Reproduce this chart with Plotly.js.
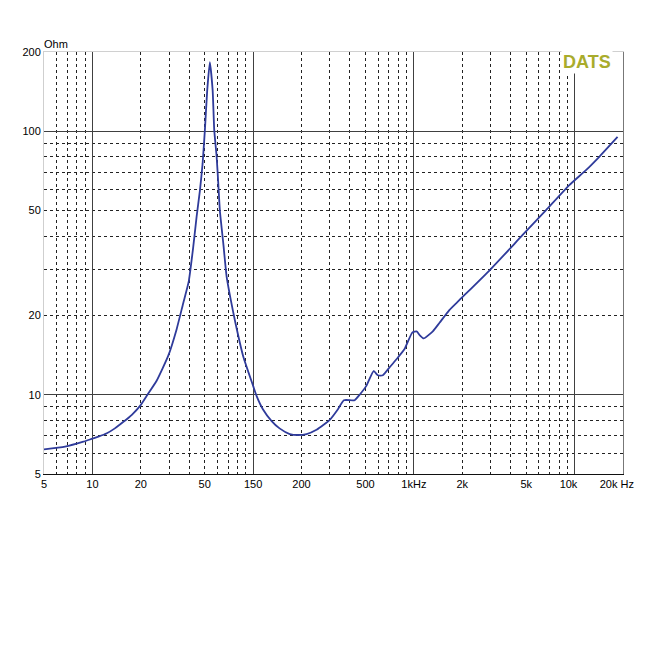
<!DOCTYPE html>
<html>
<head>
<meta charset="utf-8">
<script src="https://cdn.plot.ly/plotly-3.0.1.min.js"></script>
<style>
html,body{margin:0;padding:0;background:#fff;}
#chart{width:650px;height:650px;}
</style>
</head>
<body>
<div id="chart"></div>
<script>
// Impedance curve (frequency in Hz, impedance in Ohm)
const freqHz = [5, 6.76, 8.79, 10, 10.9, 12.3, 13.8, 15.6, 17.6, 19.8, 22, 25.1, 29.7, 33.4, 36.7, 39.7, 42.2, 44.5, 46.7, 48.5, 50.1, 51.8, 53.8,
  56.0, 57.3, 59.3, 60.7, 62.1, 65.2, 68.4, 72.5, 77.5, 86.7, 100, 105, 115, 130, 146, 169, 190, 215, 248, 300,
  337, 367, 428, 460, 506, 562, 597, 641, 706, 777, 875, 977, 1040, 1090, 1150, 1312, 1444, 1667, 1924, 2980,
  4750, 6640, 9270, 11770, 14230, 18500];
const impedanceOhm = [6.2, 6.35, 6.63, 6.81, 6.93, 7.14, 7.45, 7.89, 8.39, 9.07, 10.0, 11.3, 14.1, 17.7, 22.2, 26.8, 35.5, 47.4, 59.8, 75.5, 101, 143, 183,
  143, 101, 80, 63.4, 50, 37.6, 28.1, 23.0, 18.8, 14.0, 10.8, 9.9, 8.81, 7.96, 7.45, 7.09, 7.03, 7.09, 7.36, 8.03,
  8.81, 9.53, 9.53, 10.0, 10.8, 12.3, 11.85, 11.85, 12.7, 13.6, 14.9, 17.2, 17.4, 16.8, 16.35, 17.4, 18.75, 21.0, 22.9, 29.8,
  40.4, 50.2, 62.5, 71.2, 80, 95.2];

// Axis labels
const xTickVals = [5, 10, 20, 50, 100, 200, 500, 1000, 2000, 5000, 10000, 19990];
const xTickText = ['5', '10', '20', '50', '150', '200', '500', '1kHz', '2k', '5k',
  '10k\u00a0\u00a0\u00a0\u00a0', '20k Hz\u00a0\u00a0\u00a0\u00a0'];
const yTickVals = [5, 10, 20, 50, 100, 200];
const yTickText = ['5', '10', '20', '50', '100', '200'];

// Grid positions
const xMajorGrid = [10, 100, 1000, 10000];
const xMinorGrid = [6, 7, 8, 9, 20, 30, 40, 50, 60, 70, 80, 90, 200, 300, 400, 500, 600, 700, 800, 900,
  2000, 3000, 4000, 5000, 6000, 7000, 8000, 9000];
const yMajorGrid = [10, 100];
const yMinorGrid = [6, 7, 8, 9, 20, 30, 40, 50, 60, 70, 80, 90];

const xRange = [Math.log10(5), Math.log10(20000)];
const yRange = [Math.log10(5), Math.log10(200)];
const tickFont = {family: 'Liberation Sans, Arial, sans-serif', size: 11, color: '#000'};

const traces = [
  {x: freqHz, y: impedanceOhm, type: 'scatter', mode: 'lines',
   line: {color: '#2f3b9b', width: 1.8, shape: 'spline', smoothing: 0.5}, hoverinfo: 'skip', showlegend: false},
  {x: [], y: [], xaxis: 'x2', yaxis: 'y2', type: 'scatter', mode: 'lines', hoverinfo: 'skip', showlegend: false}
];

const layout = {
  width: 650, height: 650,
  margin: {l: 44, r: 27, t: 52, b: 176, autoexpand: false},
  paper_bgcolor: '#fff', plot_bgcolor: '#fff',
  showlegend: false,
  xaxis: {type: 'log', range: xRange, tickmode: 'array', tickvals: xTickVals, ticktext: xTickText,
    tickangle: 0, showgrid: false, zeroline: false, ticks: '', ticklen: 0, ticklabeloverflow: 'allow',
    showline: true, linecolor: '#111', linewidth: 1, tickfont: tickFont, fixedrange: true},
  yaxis: {type: 'log', range: yRange, tickmode: 'array', tickvals: yTickVals, ticktext: yTickText,
    showgrid: false, zeroline: false, ticks: '', ticklen: 0, ticklabeloverflow: 'allow',
    showline: true, linecolor: '#cfcfcf', linewidth: 1, tickfont: tickFont, fixedrange: true},
  xaxis2: {type: 'log', range: xRange, overlaying: 'x', side: 'top', anchor: 'y2',
    tickmode: 'array', tickvals: xMajorGrid, showticklabels: false, ticks: '',
    showgrid: true, gridcolor: '#404040', gridwidth: 1, zeroline: false,
    showline: true, linecolor: '#d0d0d0', linewidth: 1,
    minor: {tickmode: 'array', tickvals: xMinorGrid, showgrid: true, gridcolor: '#222', gridwidth: 1, griddash: '3px,3px', ticks: ''},
    fixedrange: true},
  yaxis2: {type: 'log', range: yRange, overlaying: 'y', side: 'right', anchor: 'x2',
    tickmode: 'array', tickvals: yMajorGrid, showticklabels: false, ticks: '',
    showgrid: true, gridcolor: '#404040', gridwidth: 1, zeroline: false,
    showline: true, linecolor: '#777', linewidth: 1,
    minor: {tickmode: 'array', tickvals: yMinorGrid, showgrid: true, gridcolor: '#222', gridwidth: 1, griddash: '3px,3px', ticks: ''},
    fixedrange: true},
  annotations: [
    {text: 'Ohm', xref: 'paper', yref: 'paper', x: -0.003, y: 1.019, xanchor: 'left', yanchor: 'middle',
     showarrow: false, font: {family: 'Liberation Sans, Arial, sans-serif', size: 11, color: '#000'}},
    {text: '<b>DATS</b>', xref: 'paper', yref: 'paper', x: 0.938, y: 0.976, xanchor: 'center', yanchor: 'middle',
     showarrow: false, bgcolor: '#fff', borderpad: 1,
     font: {family: 'Liberation Sans, Arial, sans-serif', size: 18, color: '#a9ac2c'}}
  ]
};

Plotly.newPlot('chart', traces, layout, {displayModeBar: false, staticPlot: true});
</script>
</body>
</html>
